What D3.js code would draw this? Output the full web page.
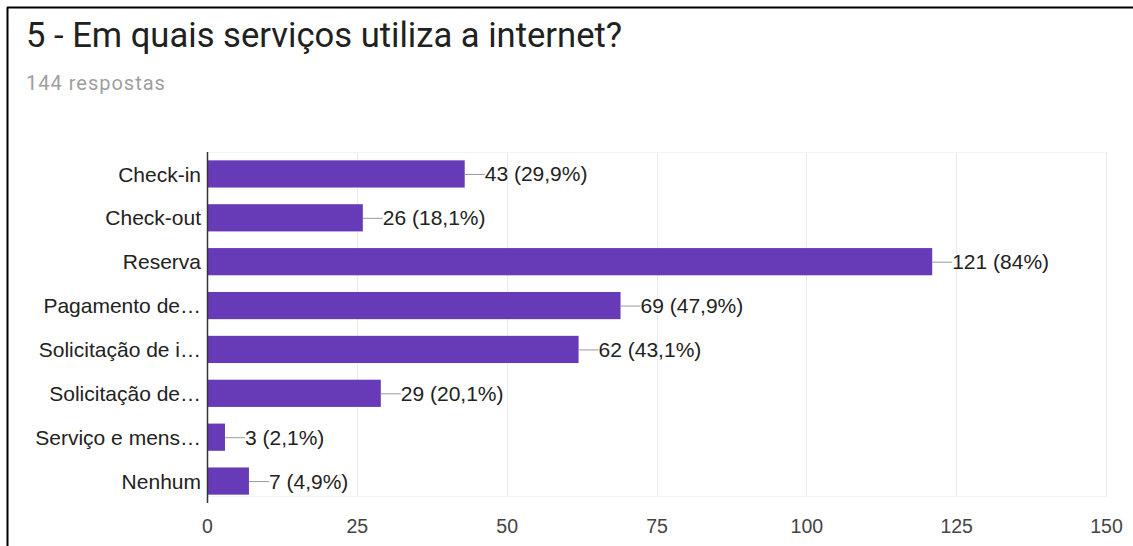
<!DOCTYPE html>
<html><head><meta charset="utf-8">
<script src="https://cdn.jsdelivr.net/npm/d3@7"></script>
<style>
html,body{margin:0;padding:0;background:#fff;}
svg{display:block;}
</style></head>
<body>
<script>
const categories = ["Check-in","Check-out","Reserva","Pagamento de…","Solicitação de i…","Solicitação de…","Serviço e mens…","Nenhum"];
const values = [43,26,121,69,62,29,3,7];
const percents = ["29,9%","18,1%","84%","47,9%","43,1%","20,1%","2,1%","4,9%"];
const ticks = [0,25,50,75,100,125,150];

const W=1133,H=546;
const svg=d3.select("body").append("svg").attr("width",W).attr("height",H);
svg.append("rect").attr("width",W).attr("height",H).attr("fill","#fff");
// frame
svg.append("line").attr("x1",7).attr("x2",W).attr("y1",7.5).attr("y2",7.5).attr("stroke","#000").attr("stroke-width",2);
svg.append("line").attr("x1",7.5).attr("x2",7.5).attr("y1",7).attr("y2",H).attr("stroke","#000").attr("stroke-width",2);

svg.append("text").attr("x",26).attr("y",47).text("5 - Em quais serviços utiliza a internet?")
  .attr("font-family","Roboto").attr("font-size",34.6).attr("fill","#212121");
svg.append("text").attr("x",26).attr("y",90).text("144 respostas")
  .attr("font-family","Roboto").attr("font-size",20).attr("letter-spacing","1px").attr("fill","#9e9e9e");

const FONT="Liberation Sans, Arial";
const x=d3.scaleLinear().domain([0,150]).range([207,1106]);
const y=d3.scaleBand().domain(categories).range([152,503]).paddingInner(0.38).paddingOuter(0.19);

// gridlines
svg.append("g").selectAll("line").data(ticks.slice(1)).join("line")
  .attr("x1",d=>Math.round(x(d))+0.5).attr("x2",d=>Math.round(x(d))+0.5)
  .attr("y1",152).attr("y2",497).attr("stroke","#ebebeb").attr("stroke-width",1);
svg.append("line").attr("x1",207).attr("x2",1106).attr("y1",152.5).attr("y2",152.5).attr("stroke","#f3f3f3");
svg.append("line").attr("x1",207).attr("x2",1106).attr("y1",496.5).attr("y2",496.5).attr("stroke","#f3f3f3");

// x axis
const xa=d3.axisBottom(x).tickValues(ticks).tickSize(0).tickPadding(0);
const gx=svg.append("g").attr("transform","translate(0,533)").call(xa);
gx.select(".domain").remove();
gx.selectAll("text").attr("font-family",FONT).attr("font-size",19.5).attr("fill","#444").attr("dy",0).attr("y",0);

// bars
svg.append("g").selectAll("rect").data(values).join("rect")
  .attr("x",x(0)).attr("y",(d,i)=>y(categories[i])).attr("width",d=>x(d)-x(0)).attr("height",y.bandwidth())
  .attr("fill","#673ab7");

// connectors and labels
const lab=svg.append("g");
values.forEach((v,i)=>{
  const cy=y(categories[i])+y.bandwidth()/2;
  lab.append("line").attr("x1",x(v)).attr("x2",x(v)+20).attr("y1",cy+0.5).attr("y2",cy+0.5).attr("stroke","#999").attr("stroke-width",1);
  lab.append("text").attr("x",x(v)+20).attr("y",cy).attr("dy","0.36em").text(v+" ("+percents[i]+")")
    .attr("font-family",FONT).attr("font-size",21).attr("fill","#222");
});

// y axis
const ya=d3.axisLeft(y).tickSize(0).tickPadding(6);
const gy=svg.append("g").attr("transform","translate(207,0)").call(ya);
gy.select(".domain").remove();
gy.selectAll("text").attr("font-family",FONT).attr("font-size",21).attr("fill","#222").attr("dy","0.36em");
svg.append("line").attr("x1",207.5).attr("x2",207.5).attr("y1",152).attr("y2",503).attr("stroke","#333").attr("stroke-width",1.5);
</script>
</body></html>
